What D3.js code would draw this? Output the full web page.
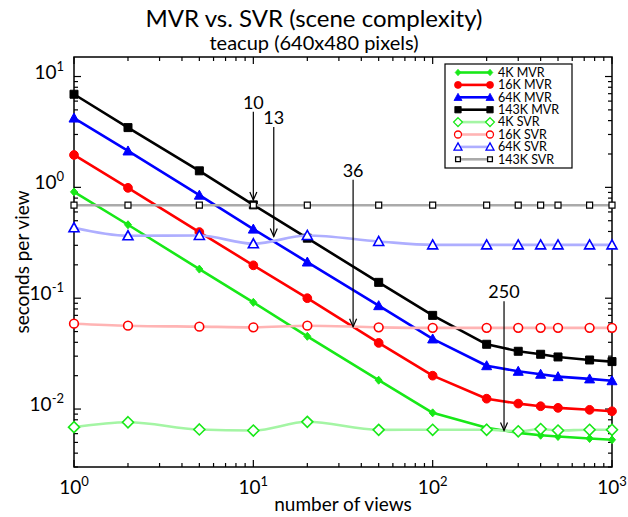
<!DOCTYPE html>
<html>
<head>
<meta charset="utf-8">
<script src="https://cdn.jsdelivr.net/npm/d3@7"></script>
<style>
  body { margin: 0; background: #fff; }
  svg text { font-family: "Lato", "Open Sans", sans-serif; fill: #000; }
</style>
</head>
<body>
<div id="chart"></div>
<script>
const views = [1, 2, 5, 10, 20, 50, 100, 200, 300, 400, 500, 750, 1000];

const mvr4k   = [0.91, 0.46, 0.183, 0.0917, 0.0453, 0.0182, 0.00924, 0.00677, 0.0061, 0.0058, 0.00565, 0.00542, 0.00528];
const mvr16k  = [1.96, 0.99, 0.395, 0.198, 0.1, 0.0395, 0.02, 0.0124, 0.0112, 0.0106, 0.01025, 0.00984, 0.00955];
const mvr64k  = [4.22, 2.13, 0.85, 0.42, 0.212, 0.0856, 0.0429, 0.0246, 0.0219, 0.0206, 0.0196, 0.0187, 0.018];
const mvr143k = [6.92, 3.46, 1.41, 0.695, 0.348, 0.139, 0.07, 0.0384, 0.0332, 0.0312, 0.0295, 0.0277, 0.0268];

const svr4k   = [0.00686, 0.0076, 0.00654, 0.0064, 0.00767, 0.00649, 0.0065, 0.0065, 0.0063, 0.0066, 0.0064, 0.0065, 0.0065];
const svr16k  = [0.0589, 0.0565, 0.0554, 0.0546, 0.0565, 0.0546, 0.054, 0.054, 0.054, 0.054, 0.054, 0.054, 0.054];
const svr64k  = [0.432, 0.366, 0.368, 0.31, 0.368, 0.325, 0.303, 0.303, 0.303, 0.303, 0.303, 0.303, 0.303];
const svr143k = [0.69, 0.69, 0.69, 0.69, 0.69, 0.69, 0.69, 0.69, 0.69, 0.69, 0.69, 0.69, 0.69];

const seriesNames = ["4K MVR", "16K MVR", "64K MVR", "143K MVR", "4K SVR", "16K SVR", "64K SVR", "143K SVR"];

const xTickExps = [0, 1, 2, 3];
const yTickExps = [1, 0, -1, -2];

// annotation arrows: x position (views), label, arrow top / tip in data units
const notes = [
  { x: 10,  label: "10",  top: 4.8,   tip: 0.77 },
  { x: 13,  label: "13",  top: 3.5,   tip: 0.36 },
  { x: 36,  label: "36",  top: 1.17,  tip: 0.0553 },
  { x: 250, label: "250", top: 0.094, tip: 0.0064 }
];

const W = 628, H = 517;
const PLOT = { left: 74, right: 612, top: 57, bottom: 467 };

const svg = d3.select("#chart").append("svg")
  .attr("width", W)
  .attr("height", H);

const x = d3.scaleLog().domain([1, 1000]).range([PLOT.left, PLOT.right]);
const y = d3.scaleLog().domain([0.003, 15]).range([PLOT.bottom, PLOT.top]);

// ── Titles ──
svg.append("text")
  .attr("x", 314).attr("y", 27)
  .style("font-size", "24px")
  .style("text-anchor", "middle")
  .text("MVR vs. SVR (scene complexity)");

svg.append("text")
  .attr("x", 314).attr("y", 50)
  .style("font-size", "20px")
  .style("text-anchor", "middle")
  .text("teacup (640x480 pixels)");

svg.append("text")
  .attr("x", (PLOT.left + PLOT.right) / 2).attr("y", 511)
  .style("font-size", "19px")
  .style("text-anchor", "middle")
  .text("number of views");

svg.append("text")
  .attr("transform", `translate(29,${(PLOT.top + PLOT.bottom) / 2}) rotate(-90)`)
  .style("font-size", "19px")
  .style("text-anchor", "middle")
  .text("seconds per view");

// ── Frame + ticks ──
const axisG = svg.append("g");
axisG.append("rect")
  .attr("x", PLOT.left).attr("y", PLOT.top)
  .attr("width", PLOT.right - PLOT.left)
  .attr("height", PLOT.bottom - PLOT.top)
  .attr("fill", "none")
  .attr("stroke", "#000")
  .attr("stroke-width", 1.5);

const xTicks = [];
for (let e = 0; e < 3; e++) for (let m = 1; m < 10; m++) xTicks.push({ v: m * 10 ** e, major: m === 1 });
xTicks.push({ v: 1000, major: true });

const yTicks = [];
for (let e = -3; e < 2; e++) for (let m = 1; m < 10; m++) {
  const v = m * 10 ** e;
  if (v >= 0.003 && v <= 15) yTicks.push({ v, major: m === 1 });
}

axisG.selectAll("line.xt")
  .data(xTicks.flatMap(d => [{ ...d, side: "b" }, { ...d, side: "t" }]))
  .join("line")
  .attr("class", "xt")
  .attr("x1", d => x(d.v)).attr("x2", d => x(d.v))
  .attr("y1", d => d.side === "b" ? PLOT.bottom : PLOT.top)
  .attr("y2", d => {
    const len = d.major ? 7 : 4;
    return d.side === "b" ? PLOT.bottom - len : PLOT.top + len;
  })
  .attr("stroke", "#000")
  .attr("stroke-width", 1.2);

axisG.selectAll("line.yt")
  .data(yTicks.flatMap(d => [{ ...d, side: "l" }, { ...d, side: "r" }]))
  .join("line")
  .attr("class", "yt")
  .attr("y1", d => y(d.v)).attr("y2", d => y(d.v))
  .attr("x1", d => d.side === "l" ? PLOT.left : PLOT.right)
  .attr("x2", d => {
    const len = d.major ? 7 : 4;
    return d.side === "l" ? PLOT.left + len : PLOT.right - len;
  })
  .attr("stroke", "#000")
  .attr("stroke-width", 1.2);

function powLabel(sel, exp) {
  sel.append("tspan").text("10");
  sel.append("tspan")
    .attr("dy", -8)
    .style("font-size", "13px")
    .text(exp < 0 ? "-" + Math.abs(exp) : exp);
}

xTickExps.forEach(e => {
  const t = axisG.append("text")
    .attr("x", x(10 ** e)).attr("y", 494)
    .style("font-size", "19px")
    .style("text-anchor", "middle");
  powLabel(t, e);
});

yTickExps.forEach(e => {
  const t = axisG.append("text")
    .attr("x", 64).attr("y", y(10 ** e) + 2)
    .style("font-size", "19px")
    .style("text-anchor", "end");
  powLabel(t, e);
});

// ── Series ──
const series = [
  { name: seriesNames[0], vals: mvr4k,   line: "#18e818", width: 2.6, curve: d3.curveLinear, marker: "diamondSmall", color: "#18e818", fill: true },
  { name: seriesNames[1], vals: mvr16k,  line: "#ff0000", width: 2.6, curve: d3.curveLinear, marker: "circle",       color: "#ff0000", fill: true },
  { name: seriesNames[2], vals: mvr64k,  line: "#0000ff", width: 2.6, curve: d3.curveLinear, marker: "triangle",     color: "#0000ff", fill: true },
  { name: seriesNames[3], vals: mvr143k, line: "#000000", width: 2.6, curve: d3.curveLinear, marker: "square",       color: "#000000", fill: true },
  { name: seriesNames[4], vals: svr4k,   line: "#a4f5a4", width: 2.6, curve: d3.curveMonotoneX, marker: "diamond",   color: "#18e818", fill: false },
  { name: seriesNames[5], vals: svr16k,  line: "#ffb4b4", width: 2.6, curve: d3.curveMonotoneX, marker: "circle",    color: "#ff0000", fill: false },
  { name: seriesNames[6], vals: svr64k,  line: "#aeaeff", width: 2.6, curve: d3.curveMonotoneX, marker: "triangle",  color: "#0000ff", fill: false },
  { name: seriesNames[7], vals: svr143k, line: "#aaaaaa", width: 2.6, curve: d3.curveMonotoneX, marker: "squareSmall", color: "#000000", fill: false }
];

function markerPath(kind) {
  switch (kind) {
    case "diamondSmall": return "M0,-4L3.5,0L0,4L-3.5,0Z";
    case "diamond":      return "M0,-5.5L5.5,0L0,5.5L-5.5,0Z";
    case "circle":       return d3.symbol(d3.symbolCircle, 60)();
    case "triangle":     return "M0,-5L5,4L-5,4Z";
    case "square":       return "M-4,-4H4V4H-4Z";
    case "squareSmall":  return "M-3,-3H3V3H-3Z";
  }
}

const dataG = svg.append("g");

series.forEach(s => {
  const pts = views.map((v, i) => [x(v), y(s.vals[i])]);
  dataG.append("path")
    .attr("d", d3.line().curve(s.curve)(pts))
    .attr("fill", "none")
    .attr("stroke", s.line)
    .attr("stroke-width", s.width)
    .attr("stroke-linejoin", "round");

  dataG.selectAll(null)
    .data(pts)
    .join("path")
    .attr("transform", d => `translate(${d[0]},${d[1]})`)
    .attr("d", markerPath(s.marker))
    .attr("fill", s.fill ? s.color : "#fff")
    .attr("stroke", s.color)
    .attr("stroke-width", s.fill ? 1 : (s.marker === "squareSmall" ? 1.2 : 1.6));
});

// ── Annotation arrows ──
const noteG = svg.append("g");
notes.forEach(n => {
  const px = x(n.x);
  const y0 = y(n.top), y1 = y(n.tip);
  noteG.append("line")
    .attr("x1", px).attr("x2", px)
    .attr("y1", y0).attr("y2", y1)
    .attr("stroke", "#000").attr("stroke-width", 1.2);
  noteG.append("path")
    .attr("d", `M${px - 3.5},${y1 - 8}L${px},${y1}L${px + 3.5},${y1 - 8}`)
    .attr("fill", "none").attr("stroke", "#000").attr("stroke-width", 1.2);
  noteG.append("text")
    .attr("x", px).attr("y", y0 - 3)
    .style("font-size", "18px")
    .style("text-anchor", "middle")
    .text(n.label);
});

// ── Legend ──
const LEG = { x: 445, y: 64, w: 127, h: 104, row: 12.4 };
const legG = svg.append("g");
legG.append("rect")
  .attr("x", LEG.x).attr("y", LEG.y)
  .attr("width", LEG.w).attr("height", LEG.h)
  .attr("fill", "#fff").attr("stroke", "#000").attr("stroke-width", 1.2);

series.forEach((s, i) => {
  const ry = LEG.y + 8.5 + i * LEG.row;
  legG.append("line")
    .attr("x1", 458).attr("x2", 490)
    .attr("y1", ry).attr("y2", ry)
    .attr("stroke", s.line).attr("stroke-width", s.width);
  [458, 490].forEach(mx => {
    legG.append("path")
      .attr("transform", `translate(${mx},${ry}) scale(0.8)`)
      .attr("d", markerPath(s.marker))
      .attr("fill", s.fill ? s.color : "#fff")
      .attr("stroke", s.color)
      .attr("stroke-width", s.fill ? 1 : 1.6);
  });
  legG.append("text")
    .attr("x", 498).attr("y", ry + 4.2)
    .style("font-size", "12.5px")
    .text(s.name);
});
</script>
</body>
</html>
